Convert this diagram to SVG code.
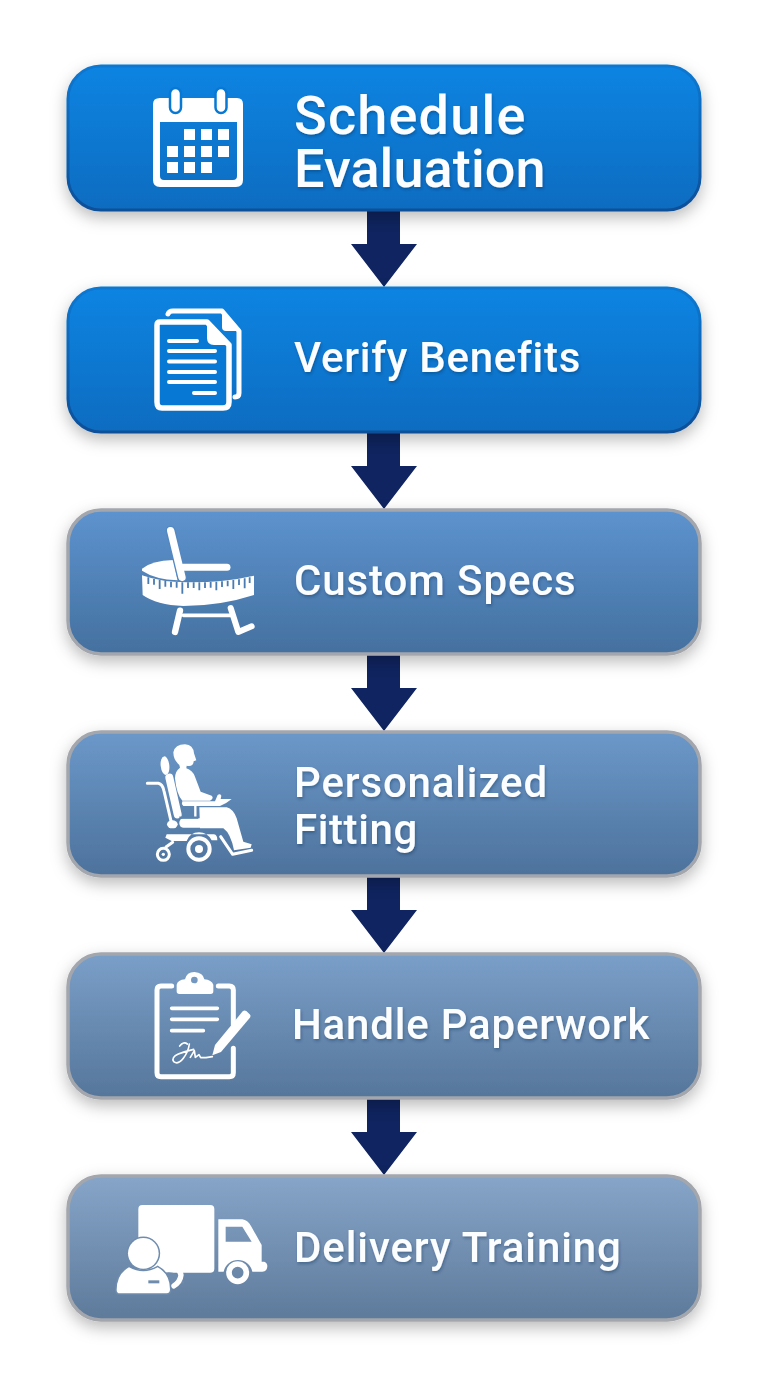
<svg xmlns="http://www.w3.org/2000/svg" width="768" height="1376" viewBox="0 0 768 1376">
<defs>
<linearGradient id="g1" x1="0" y1="0" x2="0" y2="1"><stop offset="0" stop-color="#0a84e2"/><stop offset="1" stop-color="#086cc0"/></linearGradient>
<linearGradient id="s1" x1="0" y1="0" x2="0" y2="1"><stop offset="0" stop-color="#0a78d2"/><stop offset="1" stop-color="#0a4f98"/></linearGradient>
<linearGradient id="g3" x1="0" y1="0" x2="0" y2="1"><stop offset="0" stop-color="#5d93cf"/><stop offset="1" stop-color="#44709f"/></linearGradient>
<linearGradient id="g4" x1="0" y1="0" x2="0" y2="1"><stop offset="0" stop-color="#6b98c9"/><stop offset="1" stop-color="#4d729c"/></linearGradient>
<linearGradient id="g5" x1="0" y1="0" x2="0" y2="1"><stop offset="0" stop-color="#7a9fc8"/><stop offset="1" stop-color="#56769b"/></linearGradient>
<linearGradient id="g6" x1="0" y1="0" x2="0" y2="1"><stop offset="0" stop-color="#86a5c8"/><stop offset="1" stop-color="#5e7a9b"/></linearGradient>
<filter id="sh" x="-10%" y="-20%" width="120%" height="150%"><feDropShadow dx="0" dy="6" stdDeviation="8" flood-color="#000" flood-opacity="0.27"/></filter>
<filter id="ts" x="-10%" y="-20%" width="120%" height="150%"><feDropShadow dx="1" dy="2" stdDeviation="1.500" flood-color="#0b2a50" flood-opacity="0.35"/></filter>
<path id="arrow" d="M367 0H400V34H417L384 77L351 34H367Z"/>
</defs>
<style>
.b{stroke-width:3}
.blue{stroke:url(#s1)}
.grey{stroke:#a3a7ad;stroke-width:3.500}
.t{font-family:Roboto,"Liberation Sans",sans-serif;font-weight:500;fill:#fbfdff;filter:url(#ts)}
.w{fill:#fff}
.l{fill:none;stroke:#fff;stroke-linecap:round;stroke-linejoin:round}
.a{fill:#0f2460}
</style>
<rect width="768" height="1376" fill="#fff"/>
<g id="connectors">
<use href="#arrow" y="210" class="a"/>
<use href="#arrow" y="432" class="a"/>
<use href="#arrow" y="654" class="a"/>
<use href="#arrow" y="876" class="a"/>
<use href="#arrow" y="1098" class="a"/>
</g>
<g id="node-schedule">
<rect class="b blue" x="68" y="66" width="632" height="144" rx="33" fill="url(#g1)" filter="url(#sh)"/>
<path class="w" fill-rule="evenodd" d="M160 98H237Q243 98 243 104V180Q243 187 236 187H160Q153 187 153 180V104Q153 98 160 98ZM160 122V176Q160 180 164 180H233Q237 180 237 176V122Z"/>
<rect x="170" y="88" width="11" height="25" rx="5.500" fill="#fff" stroke="#0779d4" stroke-width="2.500"/>
<rect x="215.500" y="88" width="11" height="25" rx="5.500" fill="#fff" stroke="#0779d4" stroke-width="2.500"/>
<path class="w" d="M184 129h11v11h-11zM201 129h11v11h-11zM218 129h11v11h-11zM167 146h11v11h-11zM184 146h11v11h-11zM201 146h11v11h-11zM218 146h11v11h-11zM167 162h11v11h-11zM184 162h11v11h-11zM201 162h11v11h-11z"/>
<text class="t" font-size="54"><tspan x="294" y="134" letter-spacing="1.200">Schedule</tspan><tspan x="294" y="187" letter-spacing="0.100">Evaluation</tspan></text>
</g>
<g id="node-verify">
<rect class="b blue" x="68" y="288" width="632" height="144" rx="33" fill="url(#g1)" filter="url(#sh)"/>
<path class="l" stroke-width="5" d="M168 314Q169 311 173 311H222L239 331V393Q239 397 235 397"/>
<path class="w" d="M222 310L241 331H226Q222 331 222 327Z"/>
<path d="M160 322H207L229 345V402Q229 408 223 408H162Q157 408 157 402V325Q157 322 160 322Z" fill="#0779d4" stroke="#fff" stroke-width="5.500" stroke-linejoin="round"/>
<path class="w" d="M207 320L231 345H214Q207 345 207 338Z"/>
<path class="l" stroke-width="4" d="M169 341H197M169 351H215M169 361.500H215M169 372H215M169 382H215M194 393H215"/>
<text class="t" x="294" y="372" font-size="42" letter-spacing="0.730">Verify Benefits</text>
</g>
<g id="node-specs">
<rect class="b grey" x="68" y="510" width="632" height="144" rx="33" fill="url(#g3)" filter="url(#sh)"/>
<g transform="translate(120 520) scale(.33333)">
<path class="w" d="M66 146Q95 122 160 120L173 181Q105 178 66 152Z"/>
<path stroke="#5488c2" stroke-width="30" stroke-linecap="round" fill="none" d="M152 32L186 172"/>
<path class="l" stroke-width="22" d="M152 32L186 172"/>
<path class="l" stroke-width="21" d="M190 142H321"/>
<path class="w" d="M66 166Q125 187 200 187Q310 188 402 167V225Q300 258 190 258Q110 255 68 225Z"/>
<path fill="none" stroke="#4a7cb3" stroke-width="5.500" d="M85 172v20M102 177v17M119 180v27M136 183v17M153 185v17M170 186v17M187 187v34M204 187v17M221 187v17M238 187v24M255 187v17M272 186v17M289 185v26M306 184v17M323 182v17M340 180v27M357 178v17M374 175v30M389 172v17"/>
<path class="l" stroke-width="19" d="M180 272L165 336"/>
<path class="l" stroke-width="11" d="M190 286H332"/>
<path class="l" stroke-width="18" d="M332 264L355 336L395 319"/>
</g>
<text class="t" x="294" y="595" font-size="42" letter-spacing="0.900">Custom Specs</text>
</g>
<g id="node-fitting">
<rect class="b grey" x="68" y="732" width="632" height="144" rx="33" fill="url(#g4)" filter="url(#sh)"/>
<g transform="translate(130 735) scale(.33333)">
<path class="w" d="M130 52Q135 28 165 28Q190 30 192 55L199 76L191 79Q190 96 170 92L169 100Q187 105 195 125L212 170L245 182Q253 190 240 197H157Q140 180 135 130Q135 108 150 98L148 90Q130 75 130 52Z"/>
<ellipse cx="105" cy="92" rx="13" ry="28" fill="#fff" transform="rotate(-6 105 92)"/>
<path class="l" stroke-width="24" d="M118 128L143 238"/>
<path class="l" stroke-width="9" d="M52 145H85Q98 148 102 168L124 262"/>
<ellipse cx="127" cy="268" rx="16" ry="12" fill="#fff"/>
<path class="w" d="M157 199H255L263 180Q270 175 274 182L272 192L305 192Q290 205 270 213H160Q153 206 157 199Z"/>
<path class="w" d="M208 217H290Q310 222 320 250L340 320L365 328L362 338L312 346Q302 295 280 280H210Z"/>
<path class="l" stroke-width="7" d="M196 213V272"/>
<rect x="148" y="250" width="132" height="28" rx="13" fill="#fff"/>
<path stroke="#5b82ae" stroke-width="7" fill="none" d="M148 248H205"/>
<path class="w" d="M110 298H252Q262 300 262 316H245Q232 292 207 292Q180 292 170 318H125L106 308Z"/>
<circle cx="207" cy="342" r="32" fill="none" stroke="#fff" stroke-width="12"/>
<circle cx="207" cy="342" r="12" fill="#fff"/>
<circle cx="100" cy="358" r="18" fill="none" stroke="#fff" stroke-width="9"/>
<circle cx="100" cy="358" r="5" fill="#fff"/>
<path class="l" stroke-width="9" d="M108 336L128 322"/>
<path class="l" stroke-width="9" d="M272 305L308 358L365 346"/>
</g>
<text class="t" font-size="42"><tspan x="294" y="797" letter-spacing="0.850">Personalized</tspan><tspan x="294" y="844" letter-spacing="0.600">Fitting</tspan></text>
</g>
<g id="node-paperwork">
<rect class="b grey" x="68" y="954" width="632" height="144" rx="33" fill="url(#g5)" filter="url(#sh)"/>
<g transform="translate(135 960) scale(.33333)">
<path class="l" stroke-width="15" stroke-linecap="butt" d="M110 78H78Q66 78 66 90V338Q66 350 78 350H283Q295 350 295 338V265M250 78H283Q295 78 295 90V195"/>
<path class="w" fill-rule="evenodd" d="M125 74Q128 60 150 58Q155 36 178 36Q205 38 208 58Q230 60 235 74V94Q235 102 227 102H133Q125 102 125 94ZM178 50A10 10 0 1 0 178.100 70A10 10 0 1 0 178 50Z"/>
<path class="l" stroke-width="11" d="M110 145H247M110 178H247M110 212H205"/>
<path class="w" d="M240 255L323 154Q328 149 334 153L344 163Q349 168 344 174L258 276L232 286Z"/>
<path class="l" stroke-width="5" d="M157 252Q146 243 134 258M163 252Q160 275 145 295Q130 315 116 305Q108 292 130 282Q150 274 176 268M166 292L178 272L181 292L192 284L197 293H213L232 290"/>
</g>
<text class="t" x="292" y="1039" font-size="42" letter-spacing="0.800">Handle Paperwork</text>
</g>
<g id="node-delivery">
<rect class="b grey" x="68" y="1176" width="632" height="144" rx="33" fill="url(#g6)" filter="url(#sh)"/>
<g transform="translate(105 1190) scale(.33333)">
<path class="w" d="M112 45H316Q328 45 328 57V236Q328 248 316 248H100V57Q100 45 112 45Z"/>
<path d="M180 248A50 50 0 0 1 238 280H180Z" fill="#6f8cae"/>
<path class="l" stroke-width="16" stroke-linecap="butt" d="M176 226Q222 222 228 255Q226 276 206 288"/>
<path class="w" fill-rule="evenodd" d="M340 88H412Q428 90 438 108L470 165V215H478Q490 220 486 235Q483 245 472 245H442A44 44 0 0 0 356 245H340ZM362 110V155H440L412 110Z"/>
<circle cx="398" cy="248" r="26" fill="none" stroke="#fff" stroke-width="17"/>
<g fill="#fff" stroke="#6f8cae" stroke-width="9" paint-order="stroke">
<circle cx="115" cy="190" r="46"/>
<path d="M35 300Q35 252 72 232Q115 256 158 232Q195 252 195 298Q195 310 185 310H45Q35 310 35 300Z"/>
</g>
<rect x="130" y="271" width="33" height="9" fill="#6f8cae"/>
</g>
<text class="t" x="294" y="1262" font-size="42" letter-spacing="0.900">Delivery Training</text>
</g>
</svg>
